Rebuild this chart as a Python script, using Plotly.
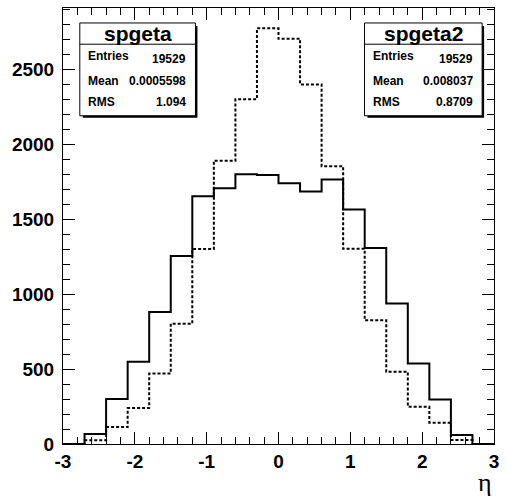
import plotly.graph_objects as go

# ---- data ----
bin_edges = [round(-3 + 0.3 * i, 2) for i in range(21)]
spgeta = [0, 67, 300, 549, 882, 1256, 1656, 1709, 1802, 1798,
          1742, 1687, 1767, 1567, 1309, 938, 538, 298, 60, 0]
spgeta2 = [0, 25, 113, 240, 471, 804, 1302, 1893, 2304, 2778,
           2707, 2402, 1856, 1304, 827, 482, 249, 142, 27, 0]

stats1 = {"name": "spgeta", "Entries": "19529", "Mean": "0.0005598", "RMS": "1.094"}
stats2 = {"name": "spgeta2", "Entries": "19529", "Mean": "0.008037", "RMS": "0.8709"}

x_ticks = [-3, -2, -1, 0, 1, 2, 3]
y_ticks = [0, 500, 1000, 1500, 2000, 2500]

W, H = 506, 497
L, R, T, B = 63, 7, 7, 53
PW, PH = W - L - R, H - T - B


def fx(px):
    return (px - L) / PW


def fy(py):
    return (H - B - py) / PH


def step_xy(edges, vals):
    xs = list(edges[:-1]) + [edges[-1]]
    ys = list(vals) + [vals[-1]]
    return xs, ys


fig = go.Figure()
x1, y1 = step_xy(bin_edges, spgeta)
x2, y2 = step_xy(bin_edges, spgeta2)
fig.add_trace(go.Scatter(x=x2, y=y2, mode="lines", line_shape="hv",
                         line=dict(color="black", width=2, dash="3px,2px"),
                         showlegend=False, hoverinfo="skip"))
fig.add_trace(go.Scatter(x=x1, y=y1, mode="lines", line_shape="hv",
                         line=dict(color="black", width=2),
                         showlegend=False, hoverinfo="skip"))

tickfont = dict(family="Liberation Sans", size=19, color="black", weight="bold")

fig.update_xaxes(range=[-3, 3], tickvals=x_ticks, ticktext=[str(v) for v in x_ticks],
                 ticks="inside", ticklen=12, tickwidth=1, tickcolor="black",
                 minor=dict(ticks="inside", ticklen=7, dtick=0.2, tick0=-3,
                            tickcolor="black", tickwidth=1, showgrid=False),
                 showline=True, linecolor="black", linewidth=1, mirror="allticks",
                 showgrid=False, zeroline=False, tickfont=tickfont, ticklabelstandoff=0)
fig.update_yaxes(range=[0, 2913], tickvals=y_ticks, ticktext=[str(v) for v in y_ticks],
                 ticks="inside", ticklen=12, tickwidth=1, tickcolor="black",
                 minor=dict(ticks="inside", ticklen=7, dtick=100, tick0=0,
                            tickcolor="black", tickwidth=1, showgrid=False),
                 showline=True, linecolor="black", linewidth=1, mirror="allticks",
                 showgrid=False, zeroline=False, tickfont=tickfont, ticklabelstandoff=4)

shapes = []
annotations = []


def stat_box(st, x0, x1, y0, y1, sep, lab_x, val_x):
    shapes.append(dict(type="rect", xref="paper", yref="paper",
                       x0=fx(x0 + 3), x1=fx(x1 + 2), y0=fy(y1 + 2), y1=fy(y0 + 3),
                       fillcolor="black", line=dict(width=0), layer="above"))
    shapes.append(dict(type="rect", xref="paper", yref="paper",
                       x0=fx(x0), x1=fx(x1), y0=fy(y1), y1=fy(y0),
                       fillcolor="white", line=dict(color="black", width=1), layer="above"))
    shapes.append(dict(type="line", xref="paper", yref="paper",
                       x0=fx(x0), x1=fx(x1), y0=fy(sep), y1=fy(sep),
                       line=dict(color="black", width=1), layer="above"))
    annotations.append(dict(xref="paper", yref="paper", x=fx((x0 + x1) / 2), y=fy(33),
                            text=st["name"], showarrow=False, xanchor="center", yanchor="middle",
                            font=dict(family="Liberation Sans", size=21, color="black", weight="bold")))
    sf = dict(family="Liberation Sans", size=12, color="black", weight="bold")
    rows = [("Entries", 55, 58), ("Mean", 80, 80), ("RMS", 101.7, 101.7)]
    for key, ly, vy in rows:
        annotations.append(dict(xref="paper", yref="paper", x=fx(lab_x), y=fy(ly),
                                text=key, showarrow=False, xanchor="left", yanchor="middle", font=sf))
        annotations.append(dict(xref="paper", yref="paper", x=fx(val_x), y=fy(vy),
                                text=st[key], showarrow=False, xanchor="right", yanchor="middle", font=sf))


stat_box(stats1, 80, 197, 22, 115, 43.3, 86.5, 189.5)
stat_box(stats2, 368, 487, 22, 115, 43.3, 375, 479.5)

annotations.append(dict(xref="paper", yref="paper", x=fx(490), y=fy(483), text="η",
                        showarrow=False, xanchor="center", yanchor="middle",
                        font=dict(family="Liberation Serif", size=26, color="black")))

fig.update_layout(width=W, height=H, margin=dict(l=L, r=R, t=T, b=B),
                  paper_bgcolor="white", plot_bgcolor="white",
                  shapes=shapes, annotations=annotations, showlegend=False)

fig.write_html("out.html")
